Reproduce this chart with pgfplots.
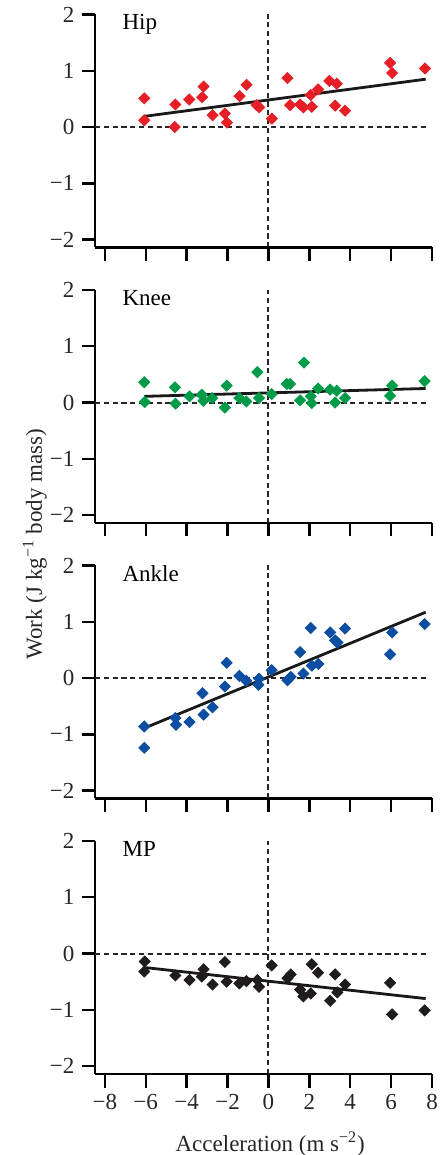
\documentclass[border=0pt]{standalone}
\usepackage{fontspec}
\setmainfont{Liberation Serif}
\usepackage{pgfplots}
\pgfplotsset{compat=1.18}

\definecolor{hipred}{RGB}{230,30,38}
\definecolor{kneegreen}{RGB}{0,155,72}
\definecolor{ankleblue}{RGB}{12,78,162}
\definecolor{mpblack}{RGB}{30,28,29}

\pgfplotsset{
  panel/.style={
    width=168.5pt, height=116.5pt, scale only axis,
    xmin=-8.48, xmax=8, ymin=-2.14, ymax=2,
    axis x line*=bottom, axis y line*=left,
    axis line style={-, line width=1.2pt},
    xtick={-8,-6,-4,-2,0,2,4,6,8},
    ytick={-2,-1,0,1,2},
    yticklabels={−2,−1,0,1,2},
    xticklabels={},
    tick align=outside,
    major tick length=6.75pt,
    every tick/.style={line width=1.2pt, black},
    clip=false,
    font=\fontsize{11.5}{13}\selectfont,
    ticklabel style={font=\fontsize{11.5}{13}\selectfont, text=black!85},
  },
  zero/.style={black!85, line width=1pt, dash pattern=on 2.6pt off 1.8pt},
  pts/.style={only marks, mark=square*, mark size=1.95pt, mark options={rotate=45}},
  fit/.style={black!90, line width=1.4pt},
}

\begin{document}
\begin{tikzpicture}
\useasboundingbox (-47.5pt,-40.5pt) rectangle (172pt,537pt);

% Hip
\begin{axis}[panel, at={(0,413.25pt)}]
  \addplot[zero] coordinates {(-8.48,0) (7.8,0)};
  \addplot[zero] coordinates {(0,-2.14) (0,2)};
  \addplot[pts, color=hipred] coordinates {
    (-6.07,0.51) (-6.07,0.12) (-4.55,0.40) (-4.58,0.00) (-3.87,0.49)
    (-3.24,0.53) (-3.17,0.72) (-2.73,0.21) (-2.13,0.24) (-2.03,0.08)
    (-1.41,0.55) (-1.07,0.75) (-0.58,0.39) (-0.45,0.35) (0.17,0.15)
    (0.93,0.87) (1.06,0.39) (1.55,0.40) (1.71,0.35) (2.07,0.57)
    (2.12,0.36) (2.43,0.67) (2.98,0.82) (3.34,0.77) (3.26,0.38)
    (3.75,0.29) (5.95,1.14) (6.05,0.96) (7.66,1.04)
  };
  \addplot[fit] coordinates {(-6.07,0.19) (7.69,0.85)};
  \node[anchor=base west, inner sep=0pt] at (axis cs:-7.15,1.74) {Hip};
\end{axis}

% Knee
\begin{axis}[panel, at={(0,275.5pt)}]
  \addplot[zero] coordinates {(-8.48,0) (7.8,0)};
  \addplot[zero] coordinates {(0,-2.14) (0,2)};
  \addplot[pts, color=kneegreen] coordinates {
    (-6.07,0.36) (-6.05,0.01) (-4.57,0.27) (-4.54,-0.02) (-3.86,0.11)
    (-3.26,0.14) (-3.18,0.03) (-2.75,0.08) (-2.04,0.30) (-2.13,-0.09)
    (-1.42,0.08) (-1.08,0.02) (-0.54,0.54) (-0.46,0.08) (0.16,0.15)
    (0.90,0.33) (1.06,0.33) (1.55,0.04) (1.74,0.71) (2.07,0.11)
    (2.12,-0.01) (2.43,0.25) (3.02,0.23) (3.34,0.21) (3.26,0.00)
    (3.75,0.08) (5.95,0.12) (6.05,0.30) (7.64,0.38)
  };
  \addplot[fit] coordinates {(-6.07,0.11) (7.69,0.25)};
  \node[anchor=base west, inner sep=0pt] at (axis cs:-7.15,1.72) {Knee};
\end{axis}

% Ankle
\begin{axis}[panel, at={(0,137.75pt)}]
  \addplot[zero] coordinates {(-8.48,0) (7.8,0)};
  \addplot[zero] coordinates {(0,-2.14) (0,2)};
  \addplot[pts, color=ankleblue] coordinates {
    (-6.07,-0.86) (-6.07,-1.24) (-4.55,-0.71) (-4.52,-0.83) (-3.86,-0.78)
    (-3.22,-0.27) (-3.17,-0.65) (-2.73,-0.52) (-2.13,-0.15) (-2.04,0.27)
    (-1.42,0.04) (-1.08,-0.05) (-0.49,-0.12) (-0.46,-0.01) (0.16,0.14)
    (0.93,-0.04) (1.09,0.02) (1.55,0.46) (1.71,0.08) (2.07,0.89)
    (2.12,0.22) (2.44,0.25) (3.02,0.81) (3.26,0.67) (3.37,0.63)
    (3.75,0.88) (5.95,0.42) (6.05,0.81) (7.64,0.96)
  };
  \addplot[fit] coordinates {(-6.07,-0.89) (7.69,1.17)};
  \node[anchor=base west, inner sep=0pt] at (axis cs:-7.15,1.72) {Ankle};
\end{axis}

% MP
\begin{axis}[panel, at={(0,0pt)},
    xticklabels={−8,−6,−4,−2,0,2,4,6,8},
    xlabel={Acceleration (m s\textsuperscript{−2})},
    xlabel style={at={(axis description cs:0.52,0)}, anchor=base, yshift=-38.5pt, font=\fontsize{11.5}{13}\selectfont, text=black!85}]
  \addplot[zero] coordinates {(-8.48,0) (7.8,0)};
  \addplot[zero] coordinates {(0,-2.14) (0,2)};
  \addplot[pts, color=mpblack] coordinates {
    (-6.05,-0.14) (-6.07,-0.32) (-4.55,-0.39) (-3.86,-0.47) (-3.26,-0.41)
    (-3.17,-0.28) (-2.73,-0.55) (-2.13,-0.15) (-2.04,-0.50) (-1.42,-0.53)
    (-1.08,-0.49) (-0.54,-0.47) (-0.46,-0.59) (0.16,-0.21) (0.93,-0.44)
    (1.09,-0.37) (1.55,-0.64) (1.71,-0.76) (2.07,-0.71) (2.12,-0.19)
    (2.43,-0.34) (3.02,-0.84) (3.26,-0.37) (3.37,-0.69) (3.75,-0.55)
    (5.95,-0.52) (6.05,-1.08) (7.64,-1.01)
  };
  \addplot[fit] coordinates {(-6.0,-0.25) (7.69,-0.80)};
  \node[anchor=base west, inner sep=0pt] at (axis cs:-7.15,1.72) {MP};
\end{axis}

\node[rotate=90, anchor=base west, inner sep=0pt, font=\fontsize{11.5}{13}\selectfont, text=black!85]
  at (-26.5pt,207pt) {Work (J kg\textsuperscript{−1} body mass)};
\end{tikzpicture}
\end{document}
